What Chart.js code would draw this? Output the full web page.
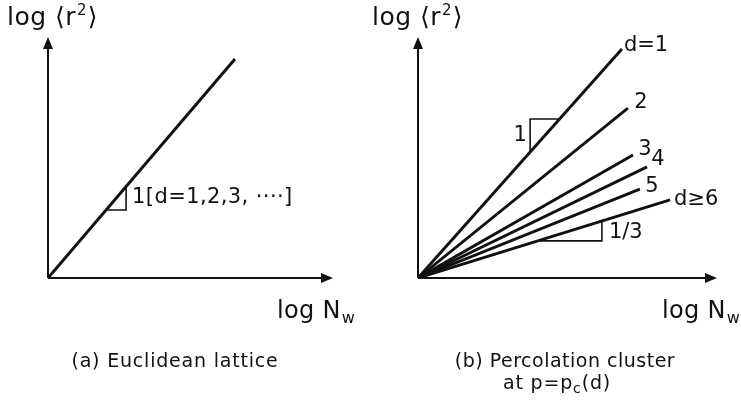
<!DOCTYPE html>
<html>
<head>
<meta charset="utf-8">
<script src="https://cdn.jsdelivr.net/npm/chart.js@4/dist/chart.umd.min.js"></script>
<style>
  html, body { margin: 0; padding: 0; background: #fff; }
  #wrap { position: relative; width: 741px; height: 405px; overflow: hidden; }
  canvas { position: absolute; top: 0; }
  #ca { left: 0; }
  #cb { left: 370px; }
</style>
</head>
<body>
<div id="wrap">
  <canvas id="ca" width="370" height="405"></canvas>
  <canvas id="cb" width="371" height="405"></canvas>
</div>
<script>
// ---- Data (arbitrary log units) ----
// Panel (a): Euclidean lattice, a single line of slope 1
const lineAX = [0, 6.56];
const lineAY = [0, 9.09];
const triAX = [2.04, 2.74, 2.74];
const triAY = [2.82, 2.82, 3.80];
const labelA = "1[d=1,2,3, ····]";

// Panel (b): percolation cluster, lines for d = 1 ... >=6
const dimLabels = ["d=1", "2", "3", "4", "5", "d≥6"];
const endBX = [6.82, 7.02, 7.19, 7.66, 7.42, 8.43];
const endBY = [9.50, 7.05, 5.10, 4.61, 3.69, 3.24];
const triB1X = [3.75, 3.75, 4.74];
const triB1Y = [5.22, 6.60, 6.60];
const triB3X = [4.01, 6.15, 6.15];
const triB3Y = [1.54, 1.54, 2.36];

const INK = "#111";
const FONT = '"DejaVu Sans", "Liberation Sans", sans-serif';

function pts(xs, ys) { return xs.map((x, i) => ({ x: x, y: ys[i] })); }

function lineDs(data, width) {
  return { data: data, showLine: true, borderColor: INK, backgroundColor: INK,
           borderWidth: width, pointRadius: 0, fill: false, tension: 0 };
}

function txt(ctx, s, x, y, size, align, base, spacing) {
  ctx.font = size + "px " + FONT;
  ctx.letterSpacing = (spacing || 0) + "px";
  ctx.textAlign = align || "left";
  ctx.textBaseline = base || "alphabetic";
  ctx.fillStyle = INK;
  ctx.fillText(s, x, y);
  const w = ctx.measureText(s).width;
  ctx.letterSpacing = "0px";
  return w;
}

const axesPlugin = {
  id: "arrowAxes",
  beforeDatasetsDraw(chart) {
    const ctx = chart.ctx, a = chart.chartArea;
    const x0 = chart.scales.x.getPixelForValue(0);
    const y0 = chart.scales.y.getPixelForValue(0);
    ctx.save();
    ctx.strokeStyle = INK; ctx.fillStyle = INK; ctx.lineWidth = 2;
    ctx.beginPath();
    ctx.moveTo(x0, y0); ctx.lineTo(x0, a.top + 8);
    ctx.moveTo(x0, y0); ctx.lineTo(a.right - 8, y0);
    ctx.stroke();
    ctx.beginPath();
    ctx.moveTo(x0, a.top); ctx.lineTo(x0 - 5, a.top + 12); ctx.lineTo(x0 + 5, a.top + 12); ctx.closePath();
    ctx.fill();
    ctx.beginPath();
    ctx.moveTo(a.right, y0); ctx.lineTo(a.right - 12, y0 - 5); ctx.lineTo(a.right - 12, y0 + 5); ctx.closePath();
    ctx.fill();
    ctx.restore();
  }
};

function axisTitles(ctx, yTitleX, xTitleX) {
  let x = yTitleX;
  x += txt(ctx, "log ⟨r", x, 25, 25, "left", "alphabetic", 0.5);
  x += txt(ctx, "2", x + 1, 15, 15) + 2;
  txt(ctx, "⟩", x, 25, 25);
  const w = txt(ctx, "log N", xTitleX, 318, 24, "left", "alphabetic", 0.3);
  txt(ctx, "w", xTitleX + w + 1, 323, 16);
}

const textA = {
  id: "textA",
  afterDraw(chart) {
    const ctx = chart.ctx;
    ctx.save();
    axisTitles(ctx, 7, 277);
    const xs = chart.scales.x, ys = chart.scales.y;
    txt(ctx, labelA, xs.getPixelForValue(triAX[1]) + 6, ys.getPixelForValue(triAY[1]) - 12, 21, "left", "middle", 0.4);
    txt(ctx, "(a) Euclidean lattice", 175, 362, 19, "center", "middle", 0.8);
    ctx.restore();
  }
};

// label offsets relative to each line's end (layout only)
const labelOff = [[2, -4, "left"], [13, -6, "center"], [12, -6, "center"], [11, -7, "center"], [12, -3, "center"], [4, 0, "left"]];

const textB = {
  id: "textB",
  afterDraw(chart) {
    const ctx = chart.ctx;
    ctx.save();
    axisTitles(ctx, 2, 292);
    const xs = chart.scales.x, ys = chart.scales.y;
    dimLabels.forEach((s, i) => {
      const px = xs.getPixelForValue(endBX[i]) + labelOff[i][0];
      const py = ys.getPixelForValue(endBY[i]) + labelOff[i][1];
      txt(ctx, s, px, py, 21, labelOff[i][2], "middle");
    });
    txt(ctx, "1", xs.getPixelForValue(triB1X[0]) - 10, ys.getPixelForValue((triB1Y[0] + triB1Y[1]) / 2), 21, "center", "middle");
    txt(ctx, "1/3", xs.getPixelForValue(triB3X[1]) + 7, ys.getPixelForValue(triB3Y[1]) - 8, 21, "left", "middle");
    txt(ctx, "(b) Percolation cluster", 195, 362, 19, "center", "middle", 0.5);
    // "at p=pc(d)" with subscript c
    ctx.font = "19px " + FONT;
    const p1 = "at p=p", p2 = "c", p3 = "(d)";
    ctx.letterSpacing = "0.8px";
    const w1 = ctx.measureText(p1).width, w3 = ctx.measureText(p3).width;
    ctx.letterSpacing = "0px";
    ctx.font = "14px " + FONT;
    const w2 = ctx.measureText(p2).width;
    const total = w1 + w2 + w3 + 1;
    const sx = 187 - total / 2;
    txt(ctx, p1, sx, 384, 19, "left", "middle", 0.8);
    txt(ctx, p2, sx + w1, 389, 14, "left", "middle");
    txt(ctx, p3, sx + w1 + w2 + 1, 384, 19, "left", "middle", 0.8);
    ctx.restore();
  }
};

function makeChart(id, datasets, pad, textPlugin) {
  return new Chart(document.getElementById(id), {
    type: "scatter",
    data: { datasets: datasets },
    options: {
      responsive: false, animation: false, devicePixelRatio: 1,
      layout: { padding: pad },
      plugins: { legend: { display: false }, tooltip: { enabled: false } },
      scales: {
        x: { type: "linear", min: 0, max: 10, display: false },
        y: { type: "linear", min: 0, max: 10, display: false }
      },
      elements: { point: { radius: 0 } }
    },
    plugins: [axesPlugin, textPlugin]
  });
}

makeChart("ca",
  [lineDs(pts(lineAX, lineAY), 3), lineDs(pts(triAX, triAY), 1.6)],
  { left: 48, right: 37, top: 37, bottom: 127 }, textA);

const dsB = endBX.map((x, i) => lineDs([{ x: 0, y: 0 }, { x: x, y: endBY[i] }], 2.9));
dsB.push(lineDs(pts(triB1X, triB1Y), 1.6));
dsB.push(lineDs(pts(triB3X, triB3Y), 1.6));
makeChart("cb", dsB, { left: 48, right: 24, top: 37, bottom: 127 }, textB);
</script>
</body>
</html>
